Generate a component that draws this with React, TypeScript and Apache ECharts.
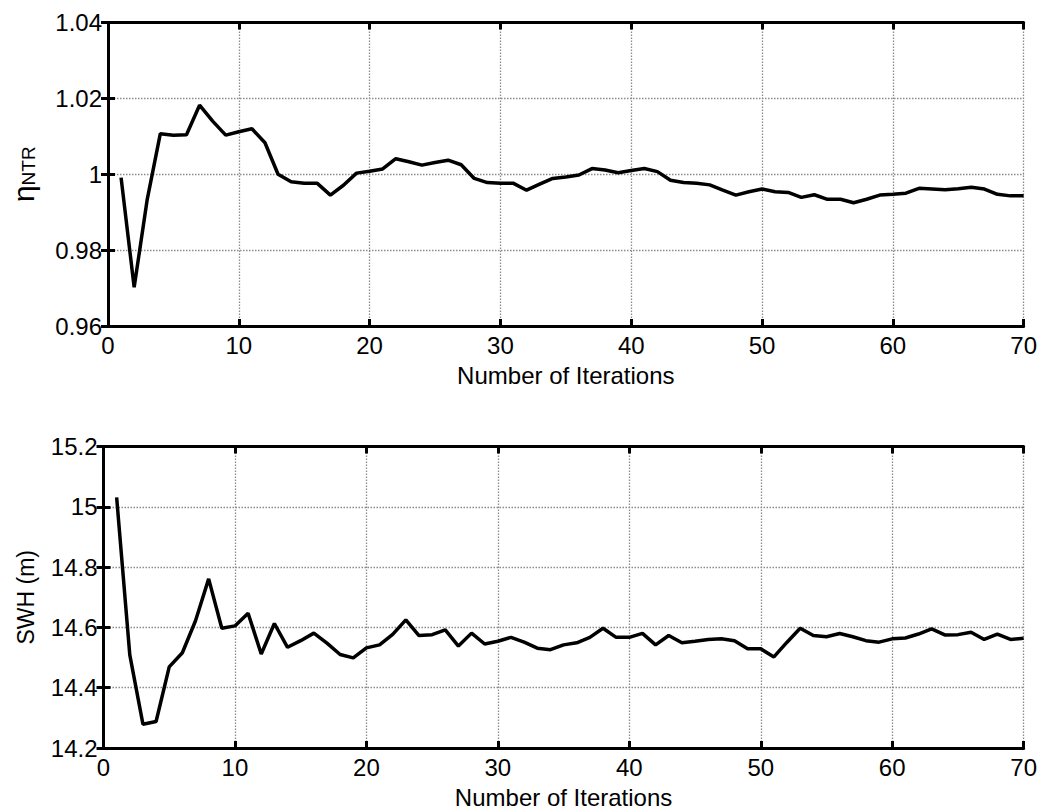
import React, { useEffect, useRef } from "react";
import * as echarts from "echarts";

const iterations: number[] = Array.from({ length: 70 }, (_, i) => i + 1);

const etaNTR: number[] = [
  0.9991, 0.9702, 0.9934, 1.0107, 1.0103, 1.0104, 1.0182, 1.014, 1.0103, 1.0112,
  1.012, 1.0083, 1.0, 0.998, 0.9976, 0.9976, 0.9945, 0.9971, 1.0003, 1.0008,
  1.0014, 1.0041, 1.0033, 1.0024, 1.0031, 1.0037, 1.0025, 0.9989, 0.9978, 0.9976,
  0.9976, 0.9958, 0.9974, 0.9989, 0.9993, 0.9998, 1.0015, 1.0011, 1.0004, 1.001,
  1.0015, 1.0007, 0.9984, 0.9978, 0.9976, 0.9972, 0.9958, 0.9945, 0.9954, 0.9961,
  0.9954, 0.9952, 0.9939, 0.9946, 0.9934, 0.9934, 0.9925, 0.9934, 0.9945, 0.9947,
  0.995, 0.9963, 0.9961, 0.9959, 0.9962, 0.9966, 0.9961, 0.9947, 0.9943, 0.9943,
];

const swh: number[] = [
  15.031, 14.509, 14.279, 14.288, 14.469, 14.516, 14.622, 14.761, 14.597, 14.605,
  14.647, 14.512, 14.613, 14.534, 14.556, 14.581, 14.548, 14.51, 14.499, 14.532,
  14.542, 14.577, 14.625, 14.573, 14.576, 14.592, 14.538, 14.581, 14.545, 14.554,
  14.567, 14.551, 14.531, 14.526, 14.542, 14.549, 14.567, 14.597, 14.567, 14.567,
  14.58, 14.542, 14.573, 14.549, 14.554, 14.56, 14.562, 14.556, 14.529, 14.529,
  14.502, 14.551, 14.597, 14.573, 14.569, 14.58, 14.569, 14.556, 14.551, 14.562,
  14.565, 14.578, 14.595, 14.575, 14.576, 14.584, 14.56, 14.578, 14.56, 14.564,
];

const xTitle = "Number of Iterations";
const swhTitle = "SWH (m)";

const FONT = "Liberation Sans, Arial, Helvetica, sans-serif";

export default function App() {
  const ref = useRef<HTMLDivElement>(null);

  useEffect(() => {
    if (!ref.current) return;
    const chart = echarts.init(ref.current, undefined, { renderer: "svg" });

    const axisLine = { show: true, lineStyle: { color: "#000", width: 3 } };
    const axisTick = { show: true, inside: true, length: 7, lineStyle: { color: "#000", width: 3 } };
    const splitLine = { show: true, lineStyle: { color: "#8c8c8c", type: [1.5, 1.5] as any, width: 1.3 } };
    const label = { color: "#000", fontSize: 24, fontFamily: FONT };

    const mkX = (gridIndex: number) => [
      {
        type: "value",
        gridIndex,
        min: 0,
        max: 70,
        interval: 10,
        position: "bottom",
        axisLine,
        axisTick,
        splitLine,
        axisLabel: { ...label, margin: 7 },
        name: xTitle,
        nameLocation: "middle",
        nameGap: 37,
        nameMoveOverlap: false,
        nameTextStyle: { color: "#000", fontSize: 24, fontFamily: FONT },
      },
      {
        type: "value",
        gridIndex,
        min: 0,
        max: 70,
        interval: 10,
        position: "top",
        axisLine,
        axisTick,
        splitLine: { show: false },
        axisLabel: { show: false },
      },
    ];

    const mkY = (gridIndex: number, min: number, max: number, interval: number, name: any, nameGap: number, fmt: (v: number) => string, rich?: any) => [
      {
        type: "value",
        gridIndex,
        min,
        max,
        interval,
        position: "left",
        axisLine,
        axisTick,
        splitLine,
        axisLabel: { ...label, margin: 6, formatter: fmt },
        name,
        nameLocation: "middle",
        nameGap,
        nameMoveOverlap: false,
        nameRotate: 90,
        nameTextStyle: { color: "#000", fontSize: 23, fontFamily: FONT, rich },
      },
      {
        type: "value",
        gridIndex,
        min,
        max,
        interval,
        position: "right",
        axisLine,
        axisTick,
        splitLine: { show: false },
        axisLabel: { show: false },
      },
    ];

    const fmtEta = (v: number) => {
      const r = Math.round(v * 100) / 100;
      return r === 1 ? "1" : r.toFixed(2);
    };
    const fmtSwh = (v: number) => {
      const r = Math.round(v * 10) / 10;
      return r === 15 ? "15" : r.toFixed(1);
    };

    chart.setOption({
      animation: false,
      backgroundColor: "#fff",
      grid: [
        { left: 103.5, right: 15, top: 22.5, height: 303.5 },
        { left: 103.5, right: 15, top: 446.5, height: 303.5 },
      ],
      xAxis: [...mkX(0), ...mkX(1)],
      yAxis: [
        ...mkY(0, 0.96, 1.04, 0.02, "{a|η}{b|NTR}", 70, fmtEta, {
          a: { fontSize: 30, fontFamily: FONT, color: "#000" },
          b: { fontSize: 19, fontFamily: FONT, color: "#000", verticalAlign: "bottom", padding: [10, 0, 0, 0] },
        }),
        ...mkY(1, 14.2, 15.2, 0.2, swhTitle, 66, fmtSwh),
      ],
      series: [
        {
          type: "line",
          xAxisIndex: 0,
          yAxisIndex: 0,
          data: iterations.map((x, i) => [x, etaNTR[i]]),
          showSymbol: false,
          symbol: "none",
          lineStyle: { color: "#000", width: 3.5 },
        },
        {
          type: "line",
          xAxisIndex: 2,
          yAxisIndex: 2,
          data: iterations.map((x, i) => [x, swh[i]]),
          showSymbol: false,
          symbol: "none",
          lineStyle: { color: "#000", width: 3.5 },
        },
      ],
    });

    return () => chart.dispose();
  }, []);

  return (
    <div
      ref={ref}
      style={{ position: "absolute", left: 0, top: 0, width: 1040, height: 810, background: "#fff" }}
    />
  );
}
